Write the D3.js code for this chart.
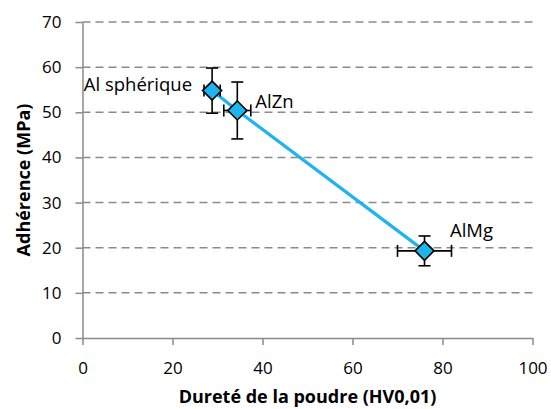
<!DOCTYPE html>
<html>
<head>
<meta charset="utf-8">
<script src="https://cdn.jsdelivr.net/npm/d3@7/dist/d3.min.js"></script>
<style>
  html, body { margin: 0; padding: 0; background: #fff; }
  svg text { font-family: "Open Sans", Lato, sans-serif; fill: #000; }
</style>
</head>
<body>
<svg id="chart" width="551" height="409"></svg>
<script>
// Powder hardness vs. coating adhesion
const powders   = ["Al sphérique", "AlZn", "AlMg"];
const hardness  = [28.8, 34.4, 76.0];   // HV0,01
const hardErr   = [1.8, 3.0, 6.0];
const adhesion  = [54.8, 50.4, 19.3];   // MPa
const adhErr    = [5.0, 6.3, 3.3];
const xTicks    = [0, 20, 40, 60, 80, 100];
const yTicks    = [0, 10, 20, 30, 40, 50, 60, 70];

const svg = d3.select("#chart");
const x = d3.scaleLinear().domain([0, 100]).range([82.5, 532.5]);
const y = d3.scaleLinear().domain([0, 70]).range([338, 22]);

const axisColor = "#8a8a8a";
const font = "'Open Sans', Lato, sans-serif";

// dashed horizontal gridlines
svg.append("g").selectAll("line").data(yTicks.filter(d => d > 0)).join("line")
  .attr("x1", x(0)).attr("x2", x(100))
  .attr("y1", d => y(d)).attr("y2", d => y(d))
  .attr("stroke", axisColor).attr("stroke-width", 1.5)
  .attr("stroke-dasharray", "8,5");

// axes
const gx = svg.append("g").attr("transform", `translate(0,${y(0)})`)
  .call(d3.axisBottom(x).tickValues(xTicks).tickSize(7).tickSizeOuter(0).tickPadding(17));
const gy = svg.append("g").attr("transform", `translate(${x(0)},0)`)
  .call(d3.axisLeft(y).tickValues(yTicks).tickSize(7).tickSizeOuter(0).tickPadding(14));
[gx, gy].forEach(g => {
  g.select(".domain").attr("stroke", axisColor).attr("stroke-width", 1.5);
  g.selectAll(".tick line").attr("stroke", axisColor).attr("stroke-width", 1.5);
  g.selectAll(".tick text").attr("font-size", 17).attr("font-family", font).attr("fill", "#000");
});

const pts = powders.map((p, i) => ({ p, hx: hardness[i], ex: hardErr[i], ay: adhesion[i], ey: adhErr[i] }));

// connecting line
svg.append("path").datum(pts)
  .attr("d", d3.line().x(d => x(d.hx)).y(d => y(d.ay)))
  .attr("fill", "none").attr("stroke", "#1fb4ee").attr("stroke-width", 3.2);

// error bars
const eb = svg.append("g").attr("stroke", "#000").attr("stroke-width", 1.6);
const cap = 6;
pts.forEach(d => {
  eb.append("line").attr("x1", x(d.hx)).attr("x2", x(d.hx)).attr("y1", y(d.ay - d.ey)).attr("y2", y(d.ay + d.ey));
  eb.append("line").attr("x1", x(d.hx) - cap).attr("x2", x(d.hx) + cap).attr("y1", y(d.ay - d.ey)).attr("y2", y(d.ay - d.ey));
  eb.append("line").attr("x1", x(d.hx) - cap).attr("x2", x(d.hx) + cap).attr("y1", y(d.ay + d.ey)).attr("y2", y(d.ay + d.ey));
  eb.append("line").attr("x1", x(d.hx - d.ex)).attr("x2", x(d.hx + d.ex)).attr("y1", y(d.ay)).attr("y2", y(d.ay));
  eb.append("line").attr("x1", x(d.hx - d.ex)).attr("x2", x(d.hx - d.ex)).attr("y1", y(d.ay) - cap).attr("y2", y(d.ay) + cap);
  eb.append("line").attr("x1", x(d.hx + d.ex)).attr("x2", x(d.hx + d.ex)).attr("y1", y(d.ay) - cap).attr("y2", y(d.ay) + cap);
});

// diamond markers
svg.append("g").selectAll("path").data(pts).join("path")
  .attr("transform", d => `translate(${x(d.hx)},${y(d.ay)})`)
  .attr("d", "M0,-9.5L9.5,0L0,9.5L-9.5,0Z")
  .attr("fill", "#1fb4ee").attr("stroke", "#000").attr("stroke-width", 1.6);

// point labels
const labelPos = [
  { dx: -20, dy: 0, anchor: "end" },
  { dx: 18, dy: -2, anchor: "start" },
  { dx: 25.5, dy: -14, anchor: "start" }
];
svg.append("g").selectAll("text").data(pts).join("text")
  .attr("x", (d, i) => x(d.hx) + labelPos[i].dx)
  .attr("y", (d, i) => y(d.ay) + labelPos[i].dy)
  .attr("text-anchor", (d, i) => labelPos[i].anchor)
  .attr("font-size", 18.5)
  .text(d => d.p);

// axis titles
svg.append("text")
  .attr("x", (x(0) + x(100)) / 2).attr("y", 403)
  .attr("text-anchor", "middle").attr("font-size", 18).attr("font-weight", "bold")
  .text("Dureté de la poudre (HV0,01)");
svg.append("text")
  .attr("transform", `translate(30,${(y(0) + y(70)) / 2}) rotate(-90)`)
  .attr("text-anchor", "middle").attr("font-size", 18).attr("font-weight", "bold")
  .text("Adhérence (MPa)");
</script>
</body>
</html>
